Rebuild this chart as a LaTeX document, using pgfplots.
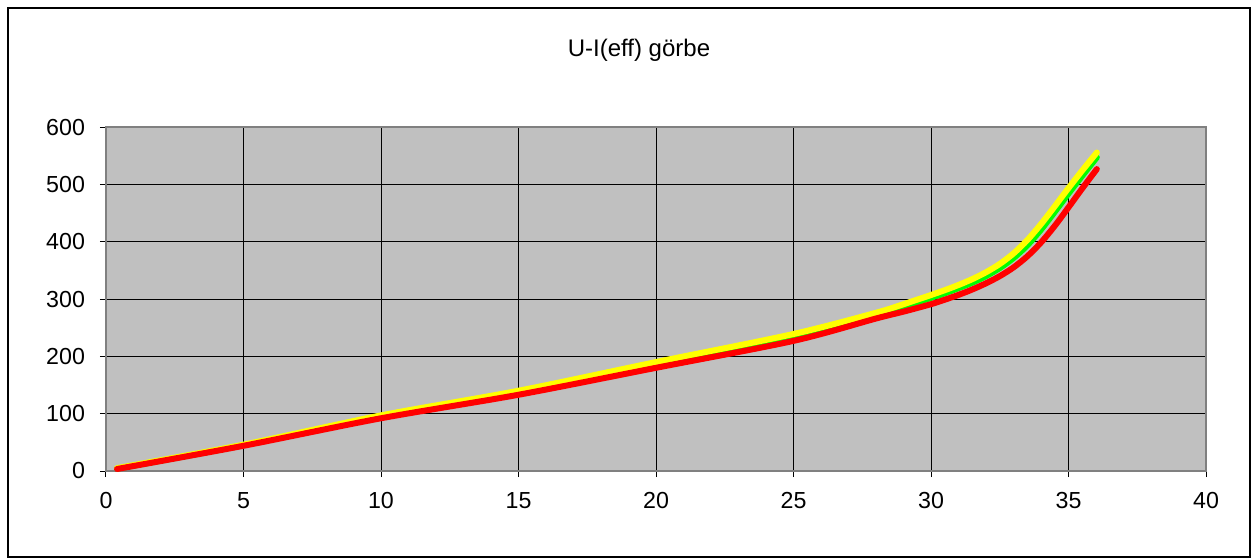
\documentclass[border=0pt]{standalone}
\usepackage{fontspec}
\setmainfont{Liberation Sans}
\usepackage{pgfplots}
\pgfplotsset{compat=1.18}
\definecolor{plotgray}{HTML}{C0C0C0}
\definecolor{framegray}{HTML}{808080}
\definecolor{xlred}{HTML}{FF0000}
\definecolor{xlyellow}{HTML}{FFFF00}
\definecolor{xlgreen}{HTML}{00FF00}
\begin{document}
\begin{tikzpicture}
\useasboundingbox (-53pt,-44pt) rectangle (573pt,235.5pt);
\draw[black, line width=0.6pt] (-49pt,-43pt) rectangle (572pt,231.5pt);
\begin{axis}[
  at={(0,0)}, anchor=south west,
  scale only axis,
  width=550pt, height=172pt,
  xmin=0, xmax=40, ymin=0, ymax=600,
  xtick={0,5,...,40}, ytick={0,100,...,600},
  axis background/.style={fill=plotgray},
  axis line style={framegray, line width=1pt},
  grid=major,
  major grid style={black, line width=0.5pt},
  tick align=outside,
  major tick length=3pt,
  tick style={black, line width=0.5pt},
  xtick pos=bottom, ytick pos=left,
  /pgf/number format/assume math mode=true,
  ticklabel style={font=\fontsize{11.6}{13}\selectfont},
  xticklabel style={yshift=-4pt},
  yticklabel style={xshift=-4pt},
  clip=false,
]
\addplot[xlgreen, line width=3pt, line cap=round, line join=round, smooth] coordinates {
(0.4,4) (5,45) (10,95) (15,137) (20,187) (25,235) (28,272) (29,287) (30,302) (30.5,310) (31,319) (31.5,328.5) (32,340) (32.5,354) (33,371.5) (33.5,393.5) (34,421) (34.5,452) (35,484) (35.5,515) (36.03,547)};
\addplot[xlyellow, line width=3pt, line cap=round, line join=round, smooth] coordinates {
(0.4,5) (5,46) (10,97) (15,140) (20,190) (25,239) (28,276) (29,291) (30,307) (30.5,315.4) (31,324.5) (31.5,334.7) (32,346.7) (32.5,361.2) (33,379.5) (33.5,402.7) (34,430.7) (34.5,461.7) (35,493.5) (35.5,524.2) (36.03,555.5)};
\addplot[xlred, line width=3pt, line cap=round, line join=round, smooth] coordinates {
(0.4,3.5) (5,44) (10,92) (15,133) (20,180) (25,227) (28,266) (29,278) (30,291) (30.5,298.8) (31,307.2) (31.5,316.6) (32,327.4) (32.5,339.9) (33,355.1) (33.5,374.4) (34,398.6) (34.5,427.6) (35,459.9) (35.5,492.9) (36.03,526.6)};
\end{axis}
\node[font=\fontsize{12}{14}\selectfont] at (266.5pt,210.5pt) {U-I(eff) görbe};
\end{tikzpicture}
\end{document}
